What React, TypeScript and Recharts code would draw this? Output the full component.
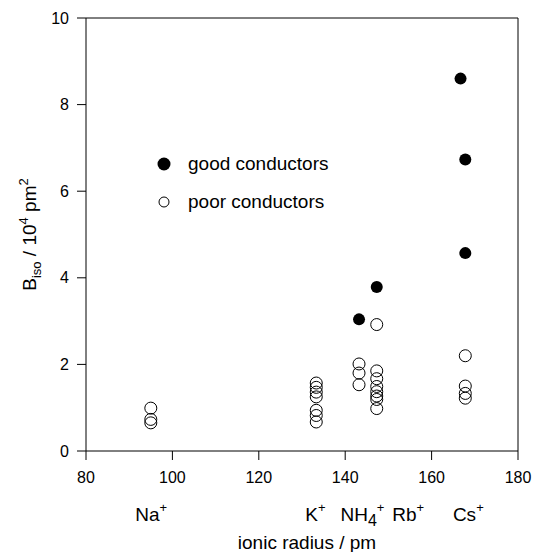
import React from "react";
import { Scatter, ScatterChart, XAxis, YAxis, Label, ReferenceLine } from "recharts";

// ionic radius (pm) vs B_iso (10^4 pm^2)
const goodRadius = [143.2, 147.3, 166.7, 167.8, 167.8];
const goodB = [3.04, 3.79, 8.6, 6.73, 4.57];

const poorRadius = [
  95, 95, 95,
  133.3, 133.3, 133.3, 133.3, 133.3, 133.3, 133.3,
  143.2, 143.2, 143.2,
  147.3, 147.3, 147.3, 147.3, 147.3, 147.3, 147.3, 147.3,
  167.8, 167.8, 167.8, 167.8
];
const poorB = [
  0.99, 0.73, 0.65,
  1.57, 1.47, 1.36, 1.25, 0.94, 0.82, 0.67,
  2.01, 1.8, 1.53,
  2.92, 1.85, 1.67, 1.49, 1.37, 1.27, 1.19, 0.98,
  2.2, 1.5, 1.33, 1.22
];

const xTicks = [80, 100, 120, 140, 160, 180];
const yTicks = [0, 2, 4, 6, 8, 10];

// where the ion names sit under the axis
const ionPositions = [95.1, 133.1, 144, 154.6, 168.5];
const ionBase = ["Na", "K", "NH", "Rb", "Cs"];
const ionSub = ["", "", "4", "", ""];

const FONT = "'Liberation Sans', Arial, sans-serif";

const goodData = goodRadius.map((r, i) => ({ r, b: goodB[i] }));
const poorData = poorRadius.map((r, i) => ({ r, b: poorB[i] }));
const ionData = ionPositions.map((r) => ({ r, b: 0 }));

function FilledDot(props: any) {
  return <circle cx={props.cx} cy={props.cy} r={6} fill="#000" />;
}

function OpenDot(props: any) {
  return (
    <circle cx={props.cx} cy={props.cy} r={6} fill="none" stroke="#000" strokeWidth={1} />
  );
}

function NoDot() {
  return null;
}

function IonTick(props: any) {
  const { x, y, payload } = props;
  const i = ionPositions.indexOf(payload.value);
  if (i < 0) return null;
  return (
    <text x={x} y={y} dy={25} textAnchor="middle" fontFamily={FONT} fontSize={19} fill="#000">
      {ionBase[i]}
      {ionSub[i] ? (
        <tspan fontSize={16} dy={5}>
          {ionSub[i]}
        </tspan>
      ) : null}
      <tspan fontSize={13} dy={ionSub[i] ? -14 : -9}>
        +
      </tspan>
    </text>
  );
}

function YTitle({ viewBox }: any) {
  const cx = viewBox.x + 36;
  const cy = viewBox.y + viewBox.height / 2;
  return (
    <text
      transform={`translate(${cx}, ${cy}) rotate(-90)`}
      textAnchor="middle"
      fontFamily={FONT}
      fontSize={19}
      fill="#000"
    >
      B
      <tspan fontSize={13} dy={5}>iso</tspan>
      <tspan dy={-5}> / 10</tspan>
      <tspan fontSize={13} dy={-8}>4</tspan>
      <tspan dy={8}> pm</tspan>
      <tspan fontSize={13} dy={-8}>2</tspan>
    </text>
  );
}

function XTitle({ viewBox }: any) {
  return (
    <text
      x={viewBox.x + viewBox.width / 2 + 5}
      y={549}
      textAnchor="middle"
      fontFamily={FONT}
      fontSize={19}
      fill="#000"
    >
      ionic radius / pm
    </text>
  );
}

function LegendBox() {
  const row = { display: "flex", alignItems: "center", height: 38 } as const;
  const text = { fontFamily: FONT, fontSize: 19, color: "#000", marginLeft: 17 };
  return (
    <div style={{ position: "absolute", left: 157, top: 145 }}>
      <div style={row}>
        <svg width={14} height={14}>
          <circle cx={7} cy={7} r={6.5} fill="#000" />
        </svg>
        <span style={text}>good conductors</span>
      </div>
      <div style={row}>
        <svg width={14} height={14}>
          <circle cx={7} cy={7} r={5} fill="none" stroke="#000" />
        </svg>
        <span style={text}>poor conductors</span>
      </div>
    </div>
  );
}

export default function App() {
  return (
    <div style={{ position: "absolute", left: 0, top: 0, width: 534, height: 552, background: "#fff", overflow: "hidden" }}>
      <ScatterChart width={534} height={552} margin={{ top: 18, right: 16, bottom: 0, left: 0 }}>
        <XAxis
          dataKey="r"
          type="number"
          domain={[80, 180]}
          ticks={xTicks}
          height={45}
          stroke="#000"
          tickSize={9}
          tickMargin={12}
          tick={{ fill: "#000", fontFamily: FONT, fontSize: 16 }}
        />
        <XAxis
          xAxisId="ion"
          dataKey="r"
          type="number"
          domain={[80, 180]}
          allowDataOverflow
          ticks={ionPositions}
          height={56}
          axisLine={false}
          tickLine={false}
          tickSize={0}
          tickMargin={0}
          tick={<IonTick />}
          interval={0}
        >
          <Label content={<XTitle />} />
        </XAxis>
        <YAxis
          dataKey="b"
          type="number"
          domain={[0, 10]}
          ticks={yTicks}
          width={86}
          stroke="#000"
          tickSize={9}
          tickMargin={8}
          tick={{ fill: "#000", fontFamily: FONT, fontSize: 16 }}
        >
          <Label content={<YTitle />} />
        </YAxis>
        <ReferenceLine y={10} stroke="#000" strokeWidth={1} />
        <ReferenceLine x={180} stroke="#000" strokeWidth={1} />
        <Scatter
          xAxisId="ion"
          data={ionData}
          shape={<NoDot />}
          legendType="none"
          isAnimationActive={false}
        />
        <Scatter
          name="good conductors"
          data={goodData}
          shape={<FilledDot />}
          isAnimationActive={false}
        />
        <Scatter
          name="poor conductors"
          data={poorData}
          shape={<OpenDot />}
          isAnimationActive={false}
        />
      </ScatterChart>
      <LegendBox />
    </div>
  );
}
